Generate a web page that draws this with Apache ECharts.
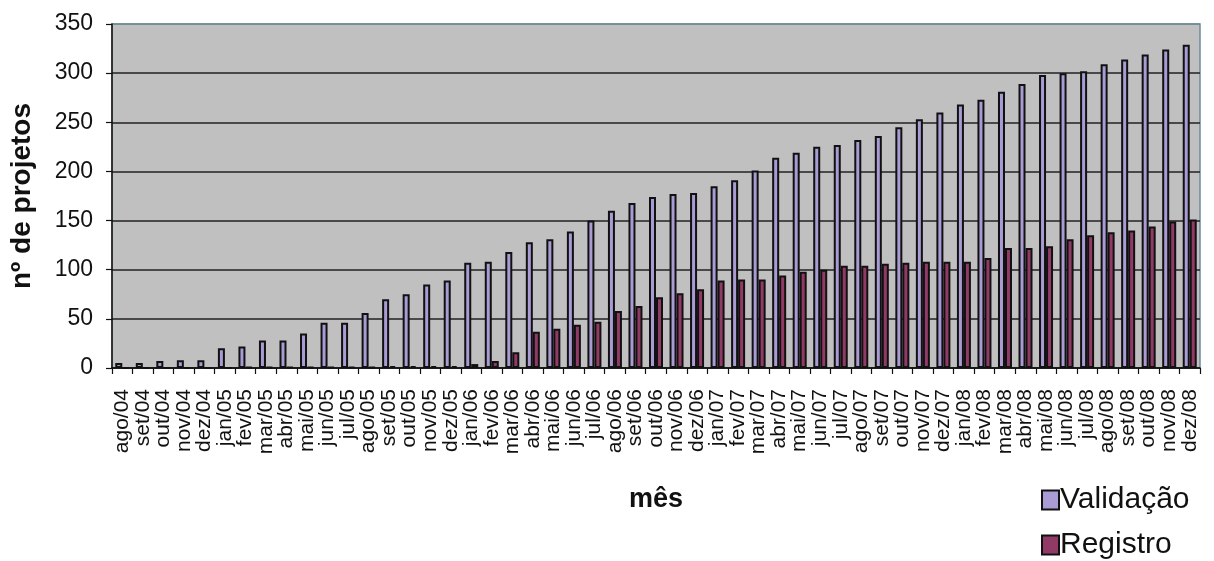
<!DOCTYPE html>
<html>
<head>
<meta charset="utf-8">
<script src="https://cdn.jsdelivr.net/npm/echarts@6/dist/echarts.min.js"></script>
<style>
  html, body { margin: 0; padding: 0; background: #ffffff; }
  #chart { width: 1214px; height: 561px; }
</style>
</head>
<body>
<div id="chart"></div>
<script>
// Monthly cumulative number of projects, Aug 2004 – Dec 2008
const months = [
  'ago/04','set/04','out/04','nov/04','dez/04',
  'jan/05','fev/05','mar/05','abr/05','mai/05','jun/05','jul/05','ago/05','set/05','out/05','nov/05','dez/05',
  'jan/06','fev/06','mar/06','abr/06','mai/06','jun/06','jul/06','ago/06','set/06','out/06','nov/06','dez/06',
  'jan/07','fev/07','mar/07','abr/07','mai/07','jun/07','jul/07','ago/07','set/07','out/07','nov/07','dez/07',
  'jan/08','fev/08','mar/08','abr/08','mai/08','jun/08','jul/08','ago/08','set/08','out/08','nov/08','dez/08'
];

const validacao = [
  5, 5, 7, 8, 8,
  20, 22, 28, 28, 35, 46, 46, 56, 70, 75, 85, 89,
  107, 108, 118, 128, 131, 139, 150, 160, 168, 174, 177, 178,
  185, 191, 201, 214, 219, 225, 227, 232, 236, 245, 253, 260,
  268, 273, 281, 289, 298, 300, 302, 309, 314, 319, 324, 329
];

const registro = [
  0, 0, 0, 0, 0,
  0, 1, 1, 1, 1, 1, 1, 1, 2, 2, 2, 2,
  4, 7, 16, 37, 40, 44, 47, 58, 63, 72, 76, 80,
  89, 90, 90, 94, 98, 100, 104, 104, 106, 107, 108, 108,
  108, 112, 122, 122, 124, 131, 135, 138, 140, 144, 149, 151
];

const yTicks = { min: 0, max: 350, interval: 50 };

const font = 'Liberation Sans, Arial, sans-serif';
const ink = '#111111';

// one legend block per series, stacked at the lower right
function legendBlock(name, top) {
  return {
    orient: 'vertical',
    left: 1036,
    top: top,
    itemWidth: 17,
    itemHeight: 19,
    icon: 'rect',
    textStyle: { fontFamily: font, fontSize: 30, color: ink, padding: [0, 0, 0, -4] },
    itemStyle: { borderColor: '#111', borderWidth: 2 },
    data: [name]
  };
}

const chart = echarts.init(document.getElementById('chart'), null, { renderer: 'canvas' });

chart.setOption({
  animation: false,
  backgroundColor: '#ffffff',
  textStyle: { fontFamily: font, color: ink },
  grid: {
    left: 112, right: 14, top: 24, bottom: 193,
    show: true,
    backgroundColor: '#c0c0c0',
    borderColor: '#6f8a99',
    borderWidth: 1.5
  },
  legend: [legendBlock('Validação', 480), legendBlock('Registro', 525)],
  xAxis: {
    type: 'category',
    data: months,
    name: 'mês',
    nameLocation: 'middle',
    nameGap: 118,
    nameTextStyle: { fontFamily: font, fontSize: 27, fontWeight: 'bold', color: ink },
    axisLine: { lineStyle: { color: '#111', width: 1.5 } },
    axisTick: { show: true, alignWithLabel: false, length: 6, lineStyle: { color: '#111', width: 1.2 } },
    axisLabel: {
      interval: 0,
      rotate: 90,
      margin: 21,
      fontFamily: font,
      fontSize: 21,
      color: ink
    }
  },
  yAxis: {
    type: 'value',
    min: yTicks.min,
    max: yTicks.max,
    interval: yTicks.interval,
    name: 'nº de projetos',
    nameLocation: 'middle',
    nameGap: 76,
    nameTextStyle: { fontFamily: font, fontSize: 28, fontWeight: 'bold', color: ink },
    axisLine: { show: true, lineStyle: { color: '#111', width: 1.5 } },
    axisTick: { show: true, length: 6, lineStyle: { color: '#111', width: 1.2 } },
    axisLabel: { margin: 19, fontFamily: font, fontSize: 23, color: ink },
    splitLine: {
      show: true,
      lineStyle: { color: ['#222', '#222', '#222', '#222', '#222', '#222', '#222', '#6f8a99'], width: 1.5 }
    }
  },
  series: [
    {
      name: 'Validação',
      type: 'bar',
      data: validacao,
      barWidth: 7,
      barGap: '0%',
      itemStyle: { color: '#a99bd4', borderColor: '#111', borderWidth: 2 }
    },
    {
      name: 'Registro',
      type: 'bar',
      data: registro,
      barWidth: 7,
      barGap: '0%',
      itemStyle: { color: '#923a66', borderColor: '#111', borderWidth: 2 }
    }
  ]
});
</script>
</body>
</html>
